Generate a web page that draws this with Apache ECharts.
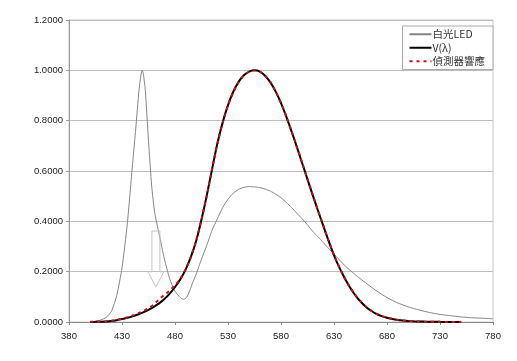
<!DOCTYPE html>
<html><head><meta charset="utf-8">
<script src="https://cdn.jsdelivr.net/npm/echarts@6/dist/echarts.min.js"></script>
<style>html,body{margin:0;padding:0;background:#fff}#c{width:517px;height:361px}</style>
</head><body><div id="c"></div>
<script>
const seriesNames = ['白光LED', 'V(λ)', '偵測器響應'];
const xTicks = [380, 430, 480, 530, 580, 630, 680, 730, 780];

// White LED spectrum (wavelength nm, relative value)
const ledWl = [400,405,410,415,420,425,430,435,440,443,446,448,449,450,452,455,458,461,465,470,475,480,485,488,491,494,497,500,505,510,515,520,525,530,535,540,545,550,555,560,565,570,575,580,585,590,595,600,605,610,615,620,625,630,640,650,660,670,680,690,700,710,720,730,740,750,760,770,780];
const ledVal = [0.000,0.003,0.008,0.018,0.042,0.105,0.215,0.39,0.63,0.77,0.92,0.985,1.0,0.99,0.92,0.72,0.54,0.43,0.35,0.25,0.172,0.122,0.097,0.090,0.098,0.125,0.160,0.190,0.250,0.305,0.365,0.410,0.455,0.488,0.512,0.527,0.535,0.538,0.537,0.534,0.528,0.520,0.508,0.494,0.475,0.455,0.432,0.410,0.386,0.360,0.338,0.315,0.292,0.270,0.225,0.188,0.155,0.124,0.097,0.076,0.060,0.048,0.038,0.030,0.025,0.020,0.017,0.015,0.013];

// V(lambda) and detector response, 400..750 nm every 5 nm
const vWl = [400,405,410,415,420,425,430,435,440,445,450,455,460,465,470,475,480,485,490,495,500,505,510,515,520,525,530,535,540,545,550,555,560,565,570,575,580,585,590,595,600,605,610,615,620,625,630,635,640,645,650,655,660,665,670,675,680,685,690,695,700,705,710,715,720,725,730,735,740,745,750];
const vVal = [0.0004,0.0006,0.0012,0.0022,0.0040,0.0073,0.0116,0.0168,0.0230,0.0298,0.0380,0.0480,0.0600,0.0739,0.0910,0.1126,0.1390,0.1693,0.2080,0.2586,0.3230,0.4073,0.5030,0.6082,0.7100,0.7932,0.8620,0.9149,0.9540,0.9803,0.9950,1.0000,0.9950,0.9786,0.9520,0.9154,0.8700,0.8163,0.7570,0.6949,0.6310,0.5668,0.5030,0.4412,0.3810,0.3210,0.2650,0.2170,0.1750,0.1382,0.1070,0.0816,0.0610,0.0446,0.0320,0.0232,0.0170,0.0119,0.0082,0.0057,0.0041,0.0029,0.0021,0.0015,0.0010,0.0007,0.0005,0.0004,0.0002,0.0002,0.0001];
const detVal = [0.0005,0.0008,0.0015,0.0028,0.0048,0.0085,0.0130,0.0190,0.0260,0.0340,0.0430,0.0550,0.0700,0.0900,0.1080,0.1250,0.1450,0.1720,0.2090,0.2590,0.3230,0.4070,0.5020,0.6080,0.7090,0.7930,0.8610,0.9140,0.9530,0.9800,0.9940,1.0000,0.9950,0.9790,0.9530,0.9160,0.8710,0.8170,0.7580,0.6960,0.6320,0.5680,0.5040,0.4420,0.3820,0.3220,0.2660,0.2180,0.1760,0.1390,0.1080,0.0825,0.0620,0.0455,0.0330,0.0240,0.0178,0.0126,0.0088,0.0062,0.0045,0.0032,0.0023,0.0016,0.0011,0.0008,0.0006,0.0004,0.0003,0.0002,0.0001];

// annotation arrow (data coords)
const arrowAt = {x: 462, top: 0.3615, tip: 0.14};

const zip = (a, b) => a.map((v, i) => [v, b[i]]);
const FONT = '"Liberation Sans", Arial, sans-serif';

const chart = echarts.init(document.getElementById('c'), null, {renderer: 'canvas'});
chart.setOption({
  animation: false,
  backgroundColor: '#fff',
  grid: {left: 69, right: 24, top: 20, bottom: 39, show: true, borderColor: '#c8c8c8', borderWidth: 1, backgroundColor: 'transparent'},
  legend: {
    orient: 'vertical', right: 24, top: 26,
    backgroundColor: '#fff', borderColor: '#aaa', borderWidth: 1,
    padding: [3, 8, 3, 6], itemGap: 3, itemWidth: 22, itemHeight: 10,
    itemStyle: {opacity: 0},
    textStyle: {fontFamily: '"Noto Sans CJK TC", "Liberation Serif", serif', fontSize: 10.5, color: '#333', padding: [0, 0, 0, -4]},
    data: seriesNames
  },
  xAxis: {
    type: 'value', min: 380, max: 780, interval: 50,
    axisLine: {show: true, lineStyle: {color: '#8a8a8a', width: 1}},
    axisTick: {show: true, length: 3, lineStyle: {color: '#8a8a8a'}},
    axisLabel: {color: '#222', fontFamily: FONT, fontSize: 9.5, margin: 9},
    splitLine: {show: false}
  },
  yAxis: {
    type: 'value', min: 0, max: 1.2, interval: 0.2,
    axisLine: {show: true, lineStyle: {color: '#9a9a9a', width: 1}},
    axisTick: {show: true, length: 3, lineStyle: {color: '#9a9a9a'}},
    axisLabel: {color: '#222', fontFamily: FONT, fontSize: 9.5, margin: 6, formatter: v => v.toFixed(4)},
    splitLine: {show: true, lineStyle: {color: '#bdbdbd', width: 1}}
  },
  series: [
    {name: seriesNames[0], type: 'line', data: zip(ledWl, ledVal), showSymbol: false, symbol: 'none', smooth: 0.2,
     lineStyle: {color: '#858585', width: 1}, z: 2},
    {name: seriesNames[1], type: 'line', data: zip(vWl, vVal), showSymbol: false, symbol: 'none', smooth: 0.2,
     lineStyle: {color: '#000', width: 2}, z: 3},
    {name: seriesNames[2], type: 'line', data: zip(vWl, detVal), showSymbol: false, symbol: 'none', smooth: 0.2,
     lineStyle: {color: '#d01010', width: 2, type: [3, 4]}, z: 4}
  ],
  color: ['#858585', '#000', '#d01010']
});

function drawArrow() {
  const top = chart.convertToPixel({gridIndex: 0}, [arrowAt.x, arrowAt.top]);
  const tip = chart.convertToPixel({gridIndex: 0}, [arrowAt.x, arrowAt.tip]);
  const cx = top[0], sh = 4, hh = 8, headLen = 15;
  const neck = tip[1] - headLen;
  chart.setOption({graphic: [{
    type: 'polygon', z: 10,
    shape: {points: [[cx - sh, top[1]], [cx + sh, top[1]], [cx + sh, neck], [cx + hh, neck], [cx, tip[1]], [cx - hh, neck], [cx - sh, neck]]},
    style: {fill: 'none', stroke: '#c4c4c4', lineWidth: 1}
  }]});
}
drawArrow();
</script></body></html>
